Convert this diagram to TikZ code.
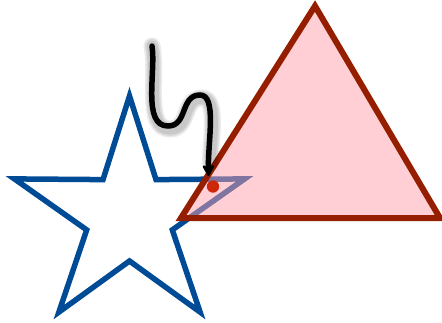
\documentclass[tikz,border=0pt]{standalone}
\usetikzlibrary{arrows.meta}
\definecolor{starblue}{RGB}{0,75,150}
\definecolor{tridark}{RGB}{150,30,0}
\definecolor{tripink}{RGB}{255,160,172}
\definecolor{dotred}{RGB}{205,40,10}
\tikzset{
  staredge/.style={draw=starblue,line width=5.5pt,line join=miter},
  triedge/.style={draw=tridark,fill=tripink,fill opacity=0.5,draw opacity=1,line width=6pt,line join=miter},
  wiggle/.style={line width=5.5pt,line cap=round,-{Stealth[length=14pt,width=15pt,round]}},
  wshadow/.style={line cap=round,draw=black,opacity=0.08}
}
\begin{document}
\begin{tikzpicture}[x=1pt,y=-1pt]
\useasboundingbox (0,0) rectangle (442,322);
% star
\draw[staredge] (129.5,96) -- (156,179.6) -- (244.6,178.9) -- (172.3,229.9)
  -- (200.1,312.1) -- (129.5,261) -- (58.9,312.1) -- (86.7,229.9)
  -- (14.4,178.9) -- (103,179.6) -- cycle;
% triangle
\draw[triedge] (315,6) -- (440,218) -- (181,218) -- cycle;
% intersection dot
\coordinate (isect) at (213,186.5);
\fill[dotred] (isect) circle (6.2);
% arrow
\coordinate (start) at (152,46);
\coordinate (tip) at (208.5,176);
\foreach \w in {17,14,11} {
  \draw[wshadow,line width=\w pt,shift={(2,3)}] (start) .. controls (156,72) and (142,126) .. (168,126)
    .. controls (188,126) and (180,95) .. (200,95)
    .. controls (217,95) and (208,140) .. (208.5,160);
}
\draw[wiggle] (start) .. controls (156,72) and (142,126) .. (168,126)
    .. controls (188,126) and (180,95) .. (200,95)
    .. controls (217,95) and (208,140) .. (tip);
\end{tikzpicture}
\end{document}
